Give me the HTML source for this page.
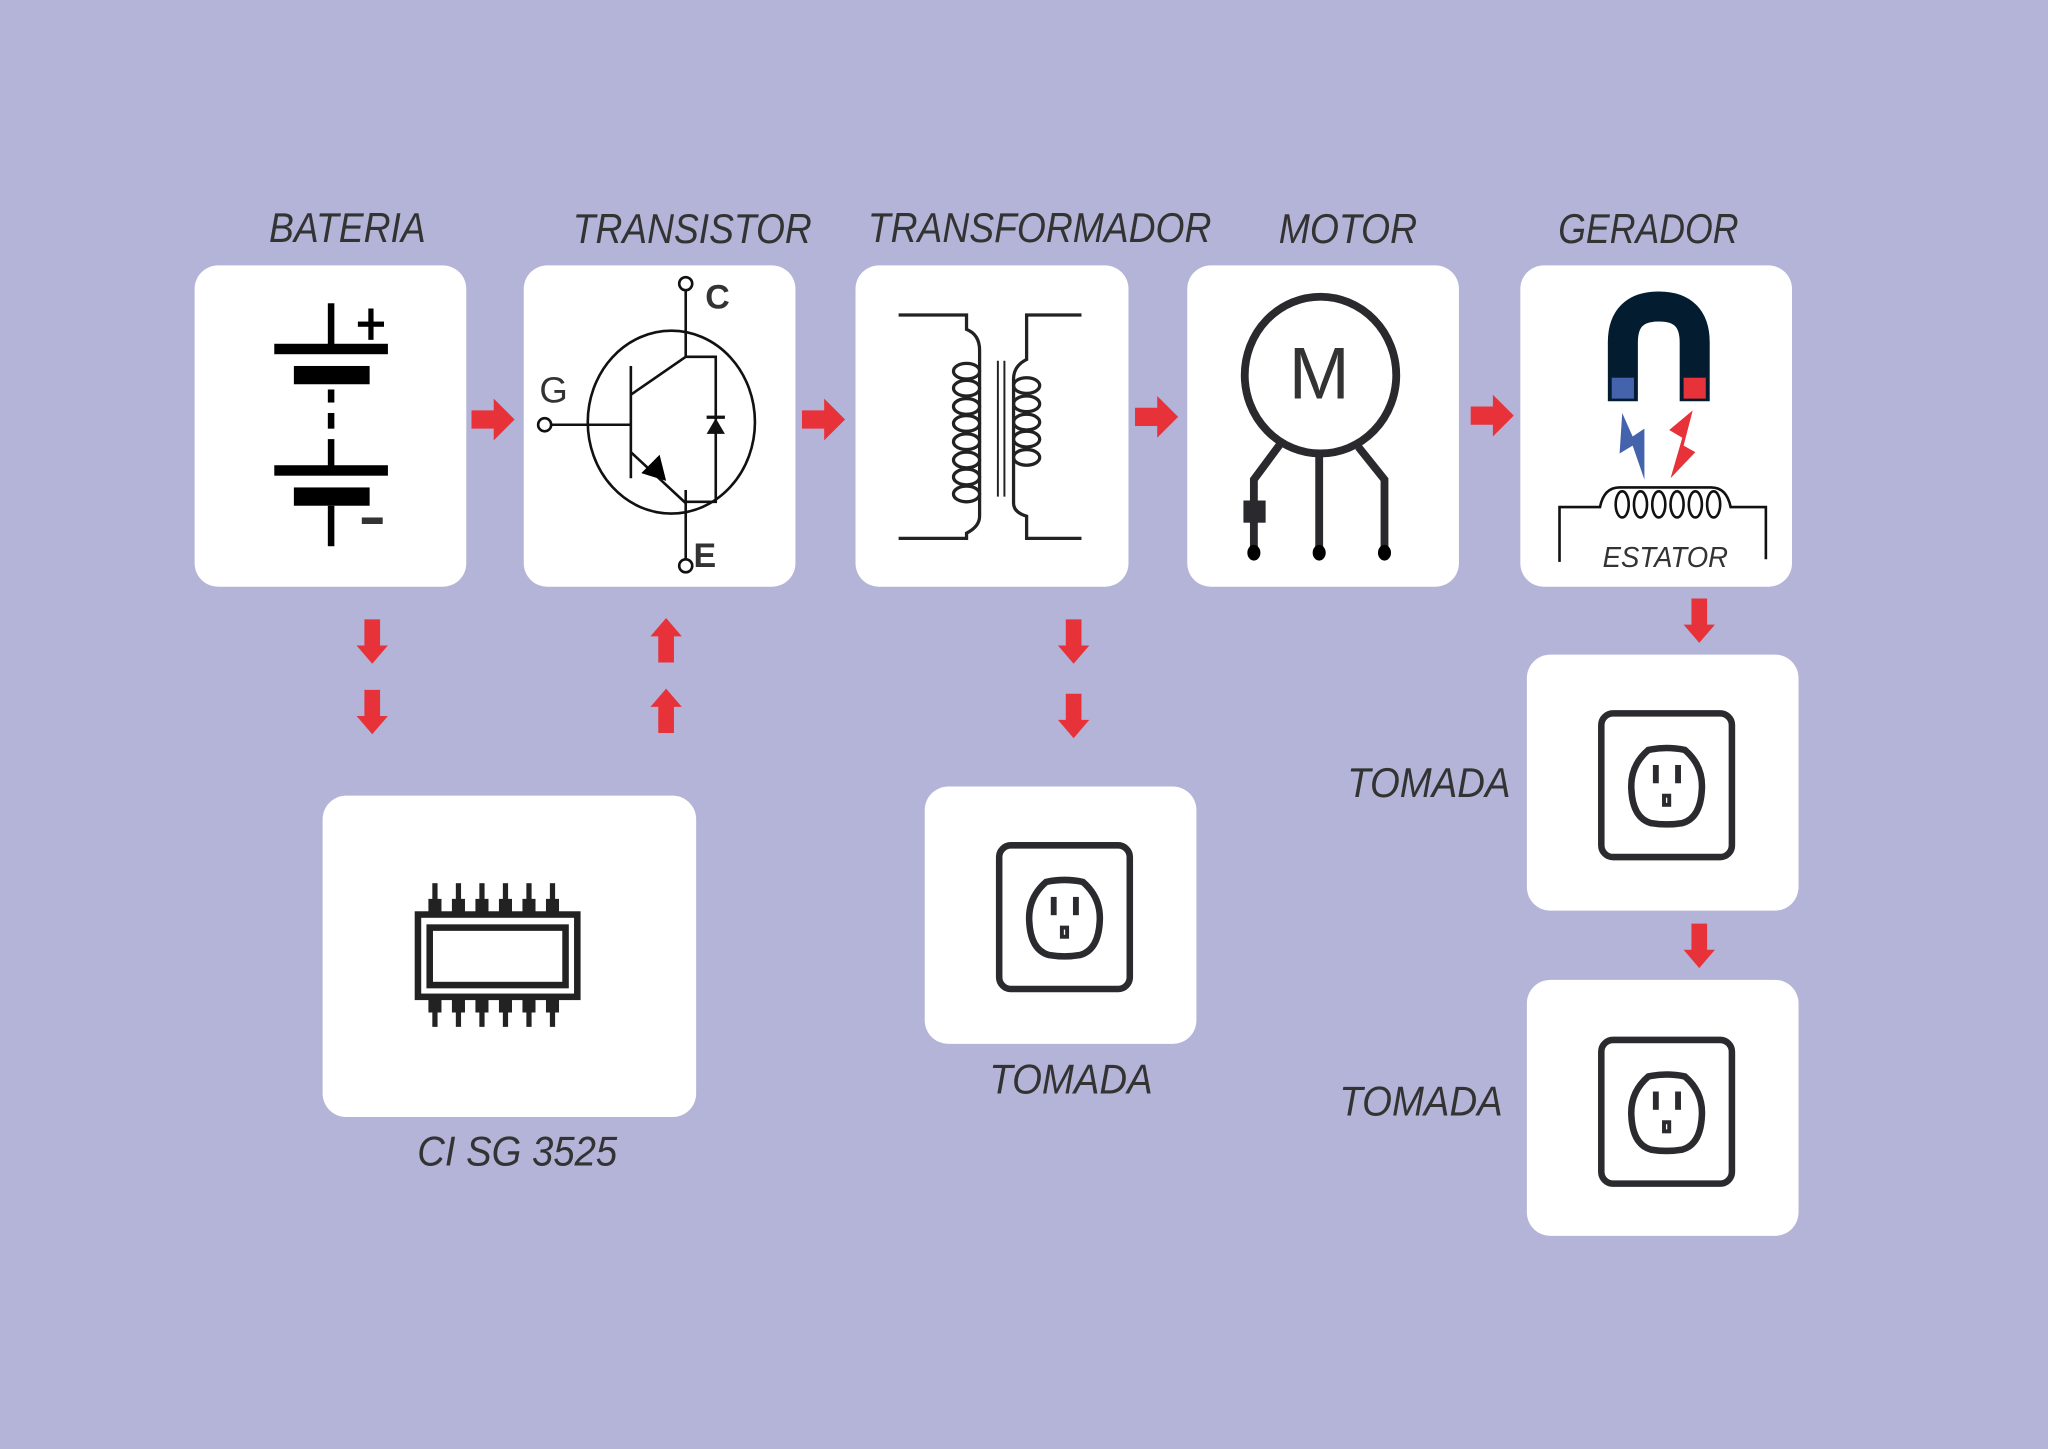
<!DOCTYPE html>
<html><head><meta charset="utf-8"><style>
html,body{margin:0;padding:0;background:#b3b4d7;}
svg{display:block}
text{font-family:"Liberation Sans",sans-serif;font-style:italic;fill:#333;}
</style></head><body>
<svg width="2048" height="1449" viewBox="0 0 1568 1109" xmlns="http://www.w3.org/2000/svg">
<defs>
<g id="ar"><path d="M0,-7H17V-16L33,0L17,16V7H0Z" fill="#e8323a"/></g>
<g id="ad"><path d="M-6,0H6V20H12L0,34L-12,20H-6Z" fill="#e8323a"/></g>
<g id="out" fill="none" stroke="#2b2a2f" stroke-width="5">
<rect x="0" y="0" width="100" height="110" rx="9"/>
<path d="M36,28 Q50,25 64,28 Q78,40 77,58 Q76,80 62,84 Q50,86 38,84 Q24,80 23,58 Q22,40 36,28Z"/>
<rect x="41" y="41" width="1.5" height="11" stroke-width="3"/>
<rect x="58" y="41" width="1.5" height="11" stroke-width="3"/>
<rect x="48" y="63" width="4" height="7" stroke-width="3"/>
</g>
</defs>
<rect width="1568" height="1109" fill="#b3b4d7"/>
<g fill="#fff">
<rect x="149" y="203" width="208" height="246" rx="18"/>
<rect x="401" y="203" width="208" height="246" rx="18"/>
<rect x="655" y="203" width="209" height="246" rx="18"/>
<rect x="909" y="203" width="208" height="246" rx="18"/>
<rect x="1164" y="203" width="208" height="246" rx="18"/>
<rect x="247" y="609" width="286" height="246" rx="18"/>
<rect x="708" y="602" width="208" height="197" rx="18"/>
<rect x="1169" y="501" width="208" height="196" rx="18"/>
<rect x="1169" y="750" width="208" height="196" rx="18"/>
</g>
<g font-size="32">
<text x="266" y="185" text-anchor="middle" textLength="120" lengthAdjust="spacingAndGlyphs">BATERIA</text>
<text x="530" y="186" text-anchor="middle" textLength="183" lengthAdjust="spacingAndGlyphs">TRANSISTOR</text>
<text x="796" y="185" text-anchor="middle" textLength="263" lengthAdjust="spacingAndGlyphs">TRANSFORMADOR</text>
<text x="1032" y="186" text-anchor="middle" textLength="106" lengthAdjust="spacingAndGlyphs">MOTOR</text>
<text x="1262" y="186" text-anchor="middle" textLength="138" lengthAdjust="spacingAndGlyphs">GERADOR</text>
<text x="396" y="892" text-anchor="middle" textLength="153" lengthAdjust="spacingAndGlyphs">CI SG 3525</text>
<text x="820" y="837" text-anchor="middle" textLength="125" lengthAdjust="spacingAndGlyphs">TOMADA</text>
<text x="1094" y="610" text-anchor="middle" textLength="125" lengthAdjust="spacingAndGlyphs">TOMADA</text>
<text x="1088" y="854" text-anchor="middle" textLength="125" lengthAdjust="spacingAndGlyphs">TOMADA</text>
</g>
<use href="#ar" x="361" y="321"/>
<use href="#ar" x="614" y="321"/>
<use href="#ar" x="869" y="319"/>
<use href="#ar" x="1126" y="318"/>
<use href="#ad" x="285" y="474"/>
<use href="#ad" x="285" y="528"/>
<use href="#ad" x="510" y="474" transform="rotate(180 510 490.5)"/>
<use href="#ad" x="510" y="527" transform="rotate(180 510 544)"/>
<use href="#ad" x="822" y="474"/>
<use href="#ad" x="822" y="531"/>
<use href="#ad" x="1301" y="458"/>
<use href="#ad" x="1301" y="707"/>
<g fill="#000">
<rect x="251" y="232" width="5" height="35"/>
<rect x="210" y="263" width="87" height="8"/>
<rect x="225" y="280" width="58" height="14"/>
<rect x="251" y="298" width="5" height="10"/>
<rect x="251" y="316" width="5" height="12"/>
<rect x="251" y="336" width="5" height="22"/>
<rect x="210" y="356" width="87" height="8"/>
<rect x="225" y="373" width="58" height="14"/>
<rect x="251" y="387" width="5" height="31"/>
<rect x="282" y="236" width="4" height="24"/>
<rect x="274" y="246" width="20" height="4"/>
<rect x="277" y="396" width="16" height="5" fill="#333"/>
</g>
<g fill="none" stroke="#111" stroke-width="2">
<ellipse cx="514" cy="323" rx="64" ry="70"/>
<circle cx="525" cy="217" r="5"/>
<circle cx="525" cy="433" r="5"/>
<circle cx="417" cy="325" r="5"/>
<path d="M525,222V273H548V384H525M525,375V428M422,325H483M483,280V366M483,302L525,273M483,346L525,385"/>
</g>
<path d="M491,362L505,348L510,368Z" fill="#000"/>
<path d="M541,332H555L548,320Z" fill="#111"/>
<rect x="541" y="318" width="14" height="2.5" fill="#111"/>
<text x="540" y="236" font-size="26" font-weight="bold" fill="#000" style="font-style:normal">C</text>
<text x="531" y="434" font-size="26" font-weight="bold" fill="#000" style="font-style:normal">E</text>
<text x="413" y="308" font-size="28" fill="#333" style="font-style:normal">G</text>
<g fill="none" stroke="#222" stroke-width="2.5">
<path d="M688,241H740V252Q750,256 750,268V395Q750,403 740,408V412H688"/>
<path d="M828,241H786V275Q776,280 776,290V385Q776,392 786,395V412H828"/>
<path d="M764,276V380M769,276V380" stroke-width="1.5"/>
</g>
<g fill="none" stroke="#222" stroke-width="2.5">
<ellipse cx="740" cy="284" rx="10" ry="6"/><ellipse cx="740" cy="297" rx="10" ry="6"/><ellipse cx="740" cy="311" rx="10" ry="6"/><ellipse cx="740" cy="324" rx="10" ry="6"/><ellipse cx="740" cy="338" rx="10" ry="6"/><ellipse cx="740" cy="352" rx="10" ry="6"/><ellipse cx="740" cy="365" rx="10" ry="6"/><ellipse cx="740" cy="378" rx="10" ry="6"/>
<ellipse cx="786" cy="295" rx="10" ry="6"/><ellipse cx="786" cy="309" rx="10" ry="6"/><ellipse cx="786" cy="323" rx="10" ry="6"/><ellipse cx="786" cy="336" rx="10" ry="6"/><ellipse cx="786" cy="350" rx="10" ry="6"/>
</g>
<g fill="none" stroke="#2a292e" stroke-width="6">
<ellipse cx="1011" cy="287" rx="58" ry="60"/>
<path d="M980,340L960,367V423M1010,346V423M1040,342L1060,367V423"/>
</g>
<rect x="952" y="383" width="17" height="17" fill="#2a292e"/>
<g fill="#000"><ellipse cx="960" cy="423" rx="5" ry="6"/><ellipse cx="1010" cy="423" rx="5" ry="6"/><ellipse cx="1060" cy="423" rx="5" ry="6"/></g>
<text x="1010" y="305" font-size="56" text-anchor="middle" fill="#2a292e" style="font-style:normal">M</text>
<path d="M1242.5,307V262Q1242.5,234.5 1270,234.5Q1297.5,234.5 1297.5,262V307" fill="none" stroke="#041c30" stroke-width="23"/>
<rect x="1234" y="289" width="17" height="16" fill="#4563ad"/>
<rect x="1289" y="289" width="17" height="16" fill="#e8323a"/>
<path d="M1242,316L1240,347L1250,341L1259,367L1259,328L1250,334Z" fill="#4563ad"/>
<path d="M1296,314L1278,329L1288,335L1279,366L1298,346L1289,341Z" fill="#e8323a"/>
<g fill="none" stroke="#111" stroke-width="2">
<path d="M1194,430V388H1225Q1228,373 1240,373H1310Q1322,373 1325,388H1352V428"/>
<ellipse cx="1242" cy="386" rx="5" ry="10"/><ellipse cx="1256" cy="386" rx="5" ry="10"/><ellipse cx="1270" cy="386" rx="5" ry="10"/><ellipse cx="1284" cy="386" rx="5" ry="10"/><ellipse cx="1298" cy="386" rx="5" ry="10"/><ellipse cx="1312" cy="386" rx="5" ry="10"/>
</g>
<text x="1275" y="434" font-size="22" text-anchor="middle" textLength="96" lengthAdjust="spacingAndGlyphs">ESTATOR</text>
<g fill="none" stroke="#222" stroke-width="5">
<rect x="320" y="700" width="122" height="63"/>
<rect x="329" y="710" width="104" height="44"/>
</g>
<g fill="#222">
<rect x="331" y="676" width="4" height="20"/><rect x="349" y="676" width="4" height="20"/><rect x="367" y="676" width="4" height="20"/><rect x="385" y="676" width="4" height="20"/><rect x="403" y="676" width="4" height="20"/><rect x="421" y="676" width="4" height="20"/>
<rect x="328" y="688" width="10" height="10"/><rect x="346" y="688" width="10" height="10"/><rect x="364" y="688" width="10" height="10"/><rect x="382" y="688" width="10" height="10"/><rect x="400" y="688" width="10" height="10"/><rect x="418" y="688" width="10" height="10"/>
<rect x="331" y="766" width="4" height="20"/><rect x="349" y="766" width="4" height="20"/><rect x="367" y="766" width="4" height="20"/><rect x="385" y="766" width="4" height="20"/><rect x="403" y="766" width="4" height="20"/><rect x="421" y="766" width="4" height="20"/>
<rect x="328" y="765" width="10" height="10"/><rect x="346" y="765" width="10" height="10"/><rect x="364" y="765" width="10" height="10"/><rect x="382" y="765" width="10" height="10"/><rect x="400" y="765" width="10" height="10"/><rect x="418" y="765" width="10" height="10"/>
</g>
<use href="#out" x="765" y="647"/>
<use href="#out" x="1226" y="546"/>
<use href="#out" x="1226" y="796"/>
</svg>
</body></html>
